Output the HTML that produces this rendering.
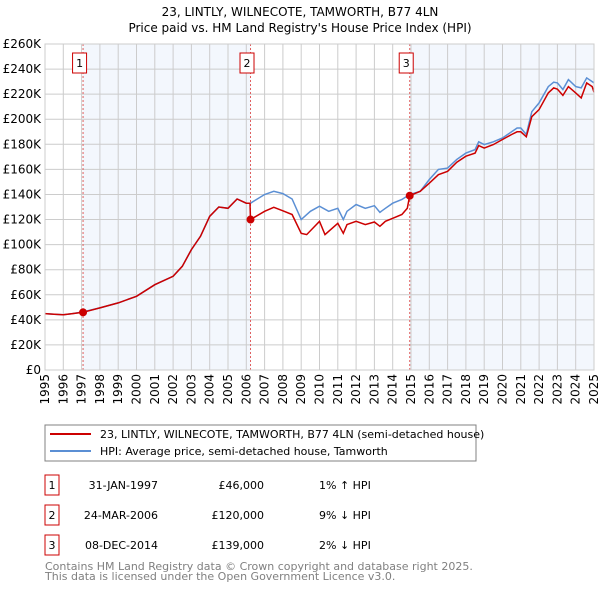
<!DOCTYPE html>
<html><head><meta charset="utf-8"><style>
body{margin:0;background:#fff;width:600px;height:590px;overflow:hidden;font-family:"DejaVu Sans","Liberation Sans",sans-serif}
svg text{font-family:"DejaVu Sans","Liberation Sans",sans-serif}
</style></head><body>
<svg id="chart" width="600" height="590" viewBox="0 0 600 590">
<text x="300" y="16" text-anchor="middle" font-size="12">23, LINTLY, WILNECOTE, TAMWORTH, B77 4LN</text>
<text x="300" y="32" text-anchor="middle" font-size="12">Price paid vs. HM Land Registry's House Price Index (HPI)</text>
<g id="plot"></g>
<rect x="45" y="425" width="431" height="36" fill="#fff" stroke="#808080"/>
<line x1="50" y1="434" x2="91" y2="434" stroke="#cc0000" stroke-width="2"/>
<text x="100" y="438" font-size="11">23, LINTLY, WILNECOTE, TAMWORTH, B77 4LN (semi-detached house)</text>
<line x1="50" y1="451" x2="91" y2="451" stroke="#5b8fd4" stroke-width="2"/>
<text x="100" y="455" font-size="11">HPI: Average price, semi-detached house, Tamworth</text>
<g font-size="11">
<rect x="45" y="475" width="14" height="20" fill="none" stroke="#cc0000"/><text x="52" y="489" text-anchor="middle">1</text>
<text x="158" y="489" text-anchor="end">31-JAN-1997</text><text x="264" y="489" text-anchor="end">£46,000</text><text x="319" y="489">1% ↑ HPI</text>
<rect x="45" y="505" width="14" height="20" fill="none" stroke="#cc0000"/><text x="52" y="519" text-anchor="middle">2</text>
<text x="158" y="519" text-anchor="end">24-MAR-2006</text><text x="264" y="519" text-anchor="end">£120,000</text><text x="319" y="519">9% ↓ HPI</text>
<rect x="45" y="535" width="14" height="20" fill="none" stroke="#cc0000"/><text x="52" y="549" text-anchor="middle">3</text>
<text x="158" y="549" text-anchor="end">08-DEC-2014</text><text x="264" y="549" text-anchor="end">£139,000</text><text x="319" y="549">2% ↓ HPI</text>
</g>
<text x="45" y="570" font-size="11" fill="#808080">Contains HM Land Registry data © Crown copyright and database right 2025.</text>
<text x="45" y="580" font-size="11" fill="#808080">This data is licensed under the Open Government Licence v3.0.</text>
</svg>
<script>
const yTicks=[0,20,40,60,80,100,120,140,160,180,200,220,240,260];
const xTicks=[1995,1996,1997,1998,1999,2000,2001,2002,2003,2004,2005,2006,2007,2008,2009,2010,2011,2012,2013,2014,2015,2016,2017,2018,2019,2020,2021,2022,2023,2024,2025];
const hpiYears=[1995,1995.5,1996,1996.5,1997.08,1998,1999,2000,2001,2002,2002.5,2003,2003.5,2004,2004.5,2005,2005.5,2006,2006.23,2007,2007.5,2008,2008.5,2009,2009.5,2010,2010.5,2011,2011.3,2011.5,2012,2012.5,2013,2013.3,2013.6,2014,2014.5,2014.93,2015.5,2016,2016.5,2017,2017.5,2018,2018.5,2018.7,2019,2019.5,2020,2020.5,2020.8,2021,2021.3,2021.6,2022,2022.5,2022.8,2023,2023.3,2023.6,2024,2024.3,2024.6,2024.9,2025];
const hpiValues=[45,44.5,44,45,46.3,49.5,53.5,58.8,68,74.7,82.7,96,106.6,122.6,130,129,136.4,133,133,140,142.5,140.7,136.4,120,126.6,130.6,126.6,129,120,126.6,132,129,131,125.8,129,133,136,140,142.5,151.9,160,161,168,173,175.8,182,179.8,182,185,190,193,193,187.8,206,213,226,229.5,229,223.7,231.6,226,225,233,230,229];
const priceYears=[1995,1995.5,1996,1996.5,1997.08,1998,1999,2000,2001,2002,2002.5,2003,2003.5,2004,2004.5,2005,2005.5,2006,2006.2,2006.23,2007,2007.5,2008,2008.5,2009,2009.3,2010,2010.3,2011,2011.3,2011.5,2012,2012.5,2013,2013.3,2013.6,2014,2014.5,2014.8,2014.93,2015.5,2016,2016.5,2017,2017.5,2018,2018.5,2018.7,2019,2019.5,2020,2020.5,2020.8,2021,2021.3,2021.6,2022,2022.5,2022.8,2023,2023.3,2023.6,2024,2024.3,2024.6,2024.9,2025];
const priceValues=[45,44.5,44,45,46,49.5,53.5,58.8,68,74.7,82.7,96,106.6,122.6,130,129,136.4,133,133,120,126.6,129.8,127,124,109,108,118.6,108,117,109,116,118.6,116,118,114.6,118.6,121,124,129,139,142.5,149,155.8,158.5,165.7,170.5,173,179,177,179.8,183.8,187.8,190,190,186,202,207.7,221,225,224,219,226,221,217,229,226,221.5];
const saleYears=[1997.08,2006.23,2014.93];
const saleValues=[46,120,139];
const saleLabels=["1","2","3"];

const L=45,R=594,T=44,B=370,x0=1995,x1=2025,ymax=260;
const xs=v=>L+(v-x0)/(x1-x0)*(R-L);
const ys=v=>B-v/ymax*(B-T);
const NS="http://www.w3.org/2000/svg";
const g=document.getElementById('plot');
function mk(tag,attrs,parent){const e=document.createElementNS(NS,tag);for(const k in attrs)e.setAttribute(k,attrs[k]);(parent||g).appendChild(e);return e;}
let s1=mk('rect',{x:xs(saleYears[0]),y:T,width:xs(saleYears[1])-xs(saleYears[0]),height:B-T,fill:'#eef3fc',opacity:0.7});


let s2=mk('rect',{x:xs(saleYears[2]),y:T,width:R-xs(saleYears[2]),height:B-T,fill:'#eef3fc',opacity:0.7});


yTicks.forEach(v=>{
  const l=mk('line',{x1:L,x2:R,y1:ys(v),y2:ys(v),stroke:'#cccccc','stroke-width':1});
  
  
  const t=mk('text',{x:L-4,y:ys(v)+4,'text-anchor':'end','font-size':12});
  
  
  t.textContent=v===0?'£0':'£'+v+'K';
});
xTicks.forEach(v=>{
  const l=mk('line',{x1:xs(v),x2:xs(v),y1:T,y2:B,stroke:'#cccccc','stroke-width':1});
  
  
  const tx=xs(v)+4, ty=B+4;
  const t=mk('text',{x:tx,y:ty,'text-anchor':'end','font-size':12,transform:'rotate(-90 '+tx+' '+ty+')'});
  
  
  t.textContent=v;
});
saleYears.forEach((v,i)=>{
  const l=mk('line',{x1:xs(v),x2:xs(v),y1:T,y2:B,stroke:'#e06060','stroke-width':1,'stroke-dasharray':'2,2'});
  
  
  const bx=xs(v)-10.5;
  const r=mk('rect',{x:bx,y:53,width:14,height:20,fill:'#fff',stroke:'#cc0000'});
  
  
  const t=mk('text',{x:bx+7,y:67,'text-anchor':'middle','font-size':11});
  
  
  t.textContent=saleLabels[i];
});
function path(xsArr,vals){return xsArr.map((x,i)=>(i?'L':'M')+xs(x).toFixed(1)+','+ys(vals[i]).toFixed(1)).join('');}
const hp=mk('path',{d:path(hpiYears,hpiValues),fill:'none',stroke:'#5b8fd4','stroke-width':1.5});


const pp=mk('path',{d:path(priceYears,priceValues),fill:'none',stroke:'#cc0000','stroke-width':1.5});


saleYears.forEach((v,i)=>{
  const c=mk('circle',{cx:xs(v),cy:ys(saleValues[i]),r:4,fill:'#cc0000'});
  
  
});
const fr=mk('rect',{x:L,y:T,width:R-L,height:B-T,fill:'none',stroke:'#cccccc'});


</script>
</body></html>
